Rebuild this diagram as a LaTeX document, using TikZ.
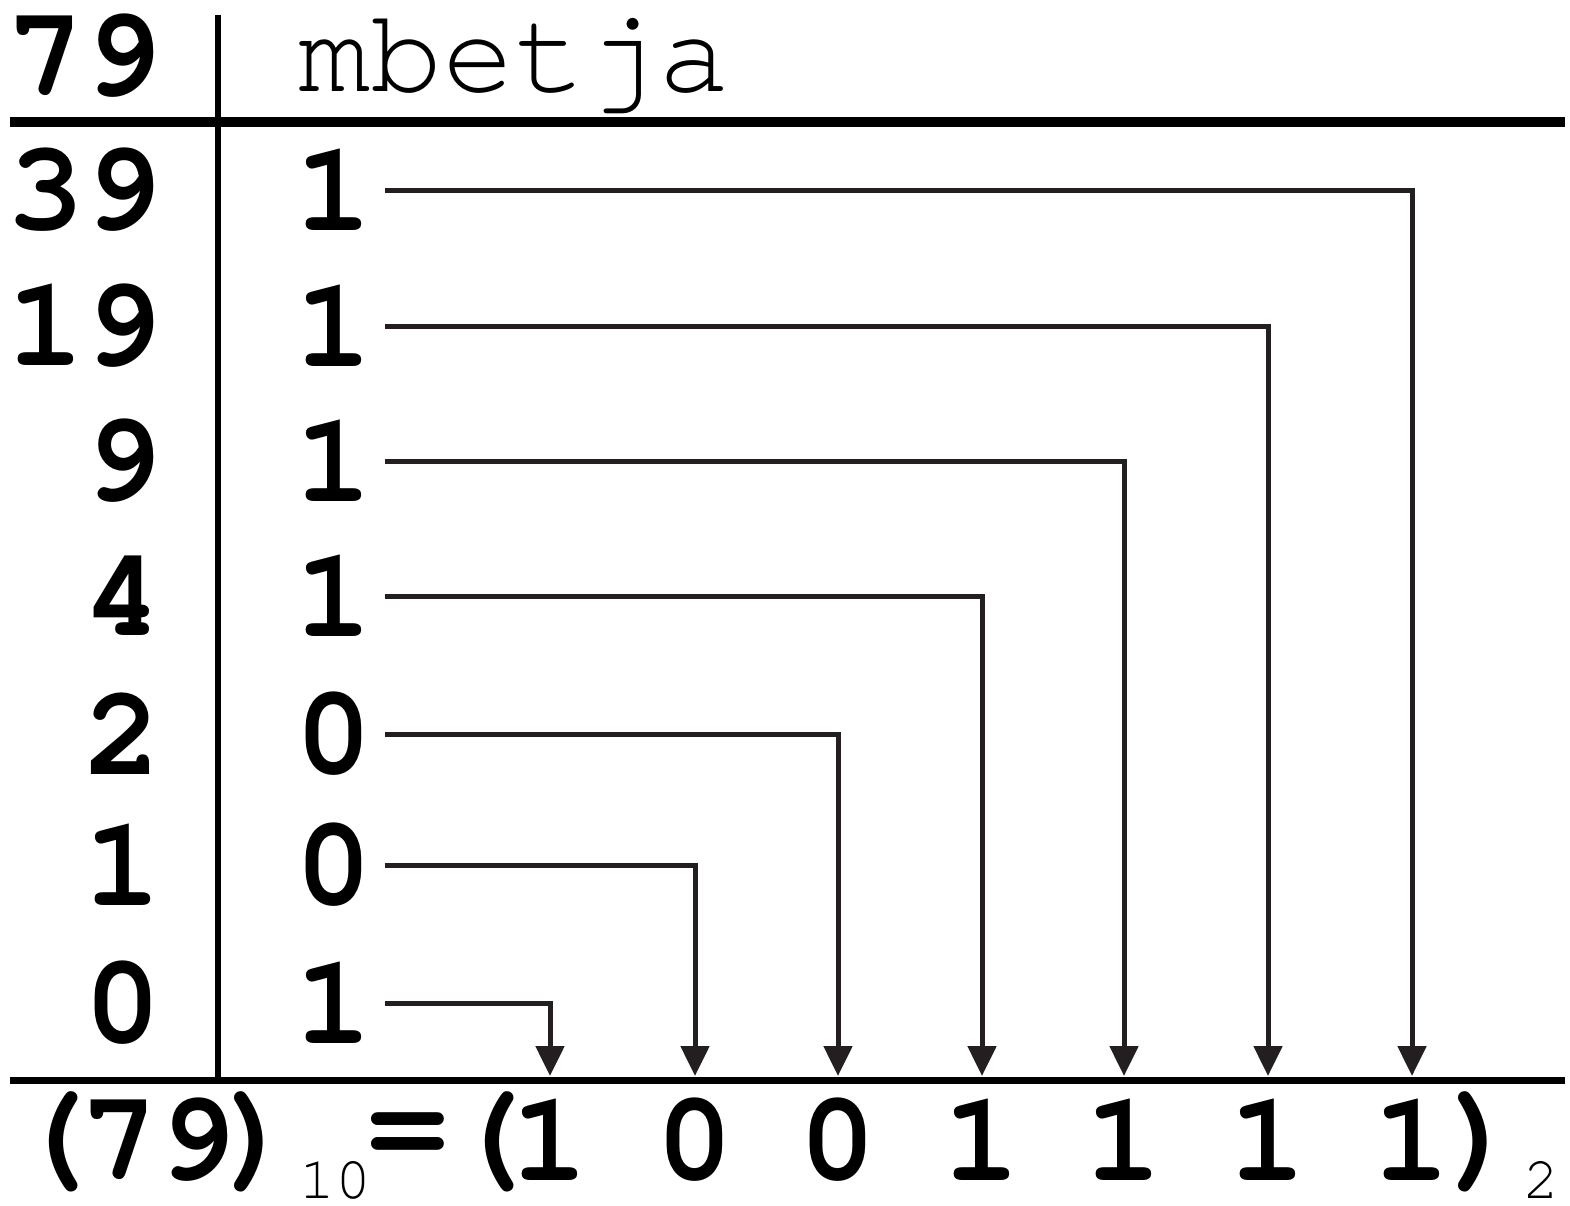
\documentclass[tikz,border=0pt]{standalone}
\usepackage{fontspec}
\setmainfont{TeX Gyre Cursor}
\usetikzlibrary{arrows.meta}
\definecolor{ink}{HTML}{231F20}
\begin{document}
\begin{tikzpicture}[x=1pt,y=-1pt,
  big/.style={inner sep=0pt, font=\fontsize{128}{128}\selectfont\bfseries},
  hdr/.style={inner sep=0pt, font=\fontsize{120}{120}\selectfont},
  sub/.style={inner sep=0pt, font=\fontsize{60}{60}\selectfont},
  arr/.style={draw=ink, line width=5pt, -{Triangle[width=28pt,length=30pt]}},
  rulel/.style={line width=#1}]
\useasboundingbox (0,0) rectangle (1570,1205);
% rules
\draw[rulel=10pt] (10,122) -- (1565,122);
\draw[rulel=6pt] (218,15) -- (218,1080);
\draw[rulel=7pt] (10,1080) -- (1565,1080);
\coordinate (bl) at (0,1076);
% header
\node[big, anchor=east] (h79) at (161,56) {79};
\node[hdr, anchor=base west] (hm) at (298,91) {mbetja};
% left numbers and remainders
\node[big, anchor=east] (n1) at (161,190) {39};
\node[big, anchor=east] (n2) at (161,326) {19};
\node[big, anchor=east] (n3) at (161,461) {9};
\node[big, anchor=east] (n4) at (161,596) {4};
\node[big, anchor=east] (n5) at (161,734) {2};
\node[big, anchor=east] (n6) at (161,865) {1};
\node[big, anchor=east] (n7) at (161,1003) {0};
\node[big] (d1) at (334,190) {1};
\node[big] (d2) at (334,326) {1};
\node[big] (d3) at (334,461) {1};
\node[big] (d4) at (334,596) {1};
\node[big] (d5) at (334,734) {0};
\node[big] (d6) at (334,865) {0};
\node[big] (d7) at (334,1003) {1};
% bottom line
\node[big] (bo1) at (54,1142) {(};
\node[big] (b79) at (158,1140) {79};
\node[big] (bc1) at (258,1142) {)};
\node[sub, anchor=base] (s10) at (335,1198) {10};
\node[big] (beq) at (408,1138) {=};
\node[big] (bop) at (490,1142) {(};
\node[big] (b7) at (550,1140) {1};
\node[big] (b6) at (695,1140) {0};
\node[big] (b5) at (838,1140) {0};
\node[big] (b4) at (982,1140) {1};
\node[big] (b3) at (1124,1140) {1};
\node[big] (b2) at (1268,1140) {1};
\node[big] (b1) at (1412,1140) {1};
\node[big] (bcl) at (1482,1142) {)};
\node[sub, anchor=base] (s2) at (1541,1198) {2};
% connectors
\foreach \i in {1,...,7}{
  \draw[arr] ([xshift=12pt]d\i.east |- d\i.center) -| (b\i |- bl);
}
\end{tikzpicture}
\end{document}
